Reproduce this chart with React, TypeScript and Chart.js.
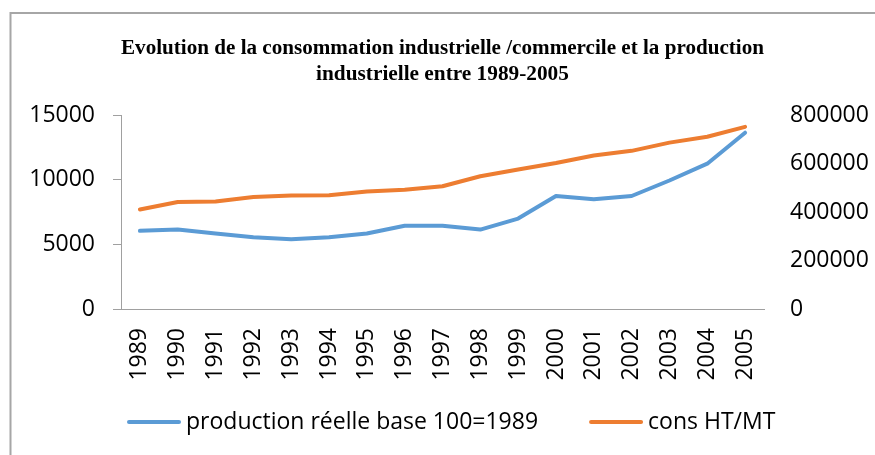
import React, { useEffect, useRef } from "react";
import { Chart, registerables } from "chart.js";

Chart.register(...registerables);

const years = ["1989", "1990", "1991", "1992", "1993", "1994", "1995", "1996", "1997", "1998", "1999", "2000", "2001", "2002", "2003", "2004", "2005"];
const production = [6050, 6150, 5850, 5550, 5400, 5550, 5850, 6450, 6450, 6150, 7000, 8750, 8500, 8750, 9950, 11250, 13650];
const consommation = [411000, 442000, 444000, 462000, 469000, 470000, 485000, 492000, 507000, 548000, 576000, 603000, 634000, 653000, 687000, 711000, 752000];
const titleLines = [
  "Evolution de la consommation industrielle /commercile et la production",
  "industrielle entre 1989-2005",
];
const seriesNames = ["production réelle base 100=1989", "cons HT/MT"];
const seriesColors = ["#5B9BD5", "#ED7D31"];

const W = 875;
const H = 455;

const framePlugin = {
  id: "frame",
  beforeDraw(chart: any) {
    const ctx = chart.ctx;
    ctx.save();
    ctx.strokeStyle = "#a6a6a6";
    ctx.lineWidth = 2;
    ctx.beginPath();
    ctx.moveTo(10.5, H);
    ctx.lineTo(10.5, 13);
    ctx.lineTo(W, 13);
    ctx.stroke();
    ctx.restore();
  },
};

const legendPlugin = {
  id: "customLegend",
  afterDraw(chart: any) {
    const ctx = chart.ctx;
    ctx.save();
    ctx.font = "23px 'Open Sans'";
    ctx.textBaseline = "middle";
    ctx.textAlign = "left";
    const y = 422;
    let x = 127;
    chart.data.datasets.forEach((ds: any) => {
      ctx.strokeStyle = ds.borderColor;
      ctx.lineWidth = 4;
      ctx.lineCap = "round";
      ctx.beginPath();
      ctx.moveTo(x + 2, y);
      ctx.lineTo(x + 52, y);
      ctx.stroke();
      ctx.fillStyle = "#000";
      const tx = x + 59;
      ctx.fillText(ds.label, tx, y);
      x = tx + ctx.measureText(ds.label).width + 51;
    });
    ctx.restore();
  },
};

const plain = (v: any) => String(v);

export default function App() {
  const ref = useRef<HTMLCanvasElement | null>(null);
  useEffect(() => {
    if (!ref.current) return;
    const tickFont = { family: "'Open Sans'", size: 23 };
    const chart = new Chart(ref.current, {
      type: "line",
      data: {
        labels: years,
        datasets: [
          {
            label: seriesNames[0],
            data: production,
            borderColor: seriesColors[0],
            backgroundColor: seriesColors[0],
            borderWidth: 4,
            pointRadius: 0,
            tension: 0,
            yAxisID: "y",
            borderCapStyle: "round",
            borderJoinStyle: "round",
          },
          {
            label: seriesNames[1],
            data: consommation,
            borderColor: seriesColors[1],
            backgroundColor: seriesColors[1],
            borderWidth: 4,
            pointRadius: 0,
            tension: 0,
            yAxisID: "y1",
            borderCapStyle: "round",
            borderJoinStyle: "round",
          },
        ],
      },
      options: {
        responsive: false,
        animation: false,
        layout: { padding: { left: 0, right: 0, top: 0, bottom: 66 } },
        plugins: {
          legend: { display: false },
          tooltip: { enabled: false },
          title: {
            display: true,
            fullSize: false,
            text: titleLines,
            color: "#000",
            font: { family: "'Liberation Serif'", weight: "bold", size: 21.3, lineHeight: 1.25 },
            padding: { top: 35, bottom: 27 },
          },
        },
        scales: {
          x: {
            type: "category",
            offset: true,
            grid: { display: false, drawTicks: false },
            border: { display: true, color: "#a0a0a0", width: 1 },
            ticks: {
              autoSkip: false,
              maxRotation: 90,
              minRotation: 90,
              padding: 19,
              color: "#000",
              font: tickFont,
            },
            afterFit: (s: any) => {
              s.height = 80;
            },
          },
          y: {
            position: "left",
            min: 0,
            max: 15000,
            ticks: { stepSize: 5000, padding: 18, color: "#000", font: tickFont, callback: plain },
            grid: { display: true, drawOnChartArea: false, drawTicks: true, tickLength: 8, color: "#a0a0a0" },
            border: { display: true, color: "#a0a0a0", width: 1 },
            afterFit: (s: any) => {
              s.width = 121;
            },
          },
          y1: {
            position: "right",
            min: 0,
            max: 800000,
            ticks: { stepSize: 200000, padding: 26, color: "#000", font: tickFont, callback: plain },
            grid: { display: false, drawOnChartArea: false, drawTicks: false },
            border: { display: false },
            afterFit: (s: any) => {
              s.width = 111;
            },
          },
        },
      },
      plugins: [framePlugin, legendPlugin],
    });
    return () => chart.destroy();
  }, []);
  return (
    <div style={{ position: "absolute", left: 0, top: 0, width: W, height: H, background: "#fff" }}>
      <canvas ref={ref} width={W} height={H} style={{ width: W, height: H, display: "block" }} />
    </div>
  );
}
